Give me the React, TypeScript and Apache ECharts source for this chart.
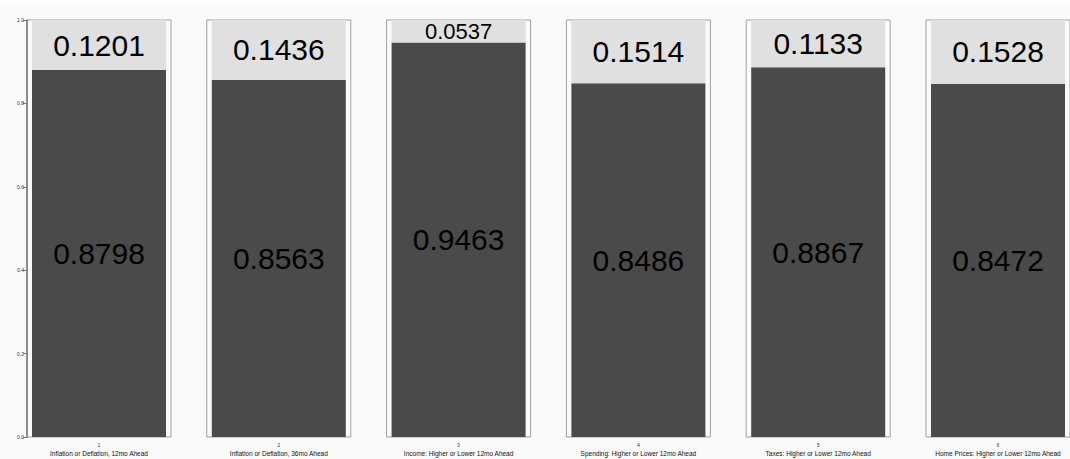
import React, { useEffect, useRef } from "react";
import * as echarts from "echarts";

const categories = [
  "Inflation or Deflation, 12mo Ahead",
  "Inflation or Deflation, 36mo Ahead",
  "Income: Higher or Lower 12mo Ahead",
  "Spending: Higher or Lower 12mo Ahead",
  "Taxes: Higher or Lower 12mo Ahead",
  "Home Prices: Higher or Lower 12mo Ahead",
];
const categoryNumbers = ["1", "2", "3", "4", "5", "6"];
const lowerValues = [0.8798, 0.8563, 0.9463, 0.8486, 0.8867, 0.8472];
const upperValues = [0.1201, 0.1436, 0.0537, 0.1514, 0.1133, 0.1528];
const yTicks = [0, 0.2, 0.4, 0.6, 0.8, 1.0];

const W = 1070;
const H = 459;
const GRID_TOP = 20;
const GRID_H = 417;
const FIRST_LEFT = 27;
const STEP = 179.8;
const GRID_W = 144;
const FONT = "'Liberation Sans', Arial, Helvetica, sans-serif";

export default function App() {
  const ref = useRef<HTMLDivElement>(null);
  useEffect(() => {
    if (!ref.current) return;
    const chart = echarts.init(ref.current, null, { renderer: "svg" });
    const grids: any[] = [];
    const xAxes: any[] = [];
    const yAxes: any[] = [];
    const series: any[] = [];
    categories.forEach((cat, i) => {
      grids.push({
        left: FIRST_LEFT + i * STEP,
        top: GRID_TOP,
        width: GRID_W,
        height: GRID_H,
        show: true,
        borderColor: "#a0a0a0",
        borderWidth: 1,
        backgroundColor: "transparent",
      });
      xAxes.push({
        type: "category",
        gridIndex: i,
        data: [cat],
        axisLine: { show: false },
        axisTick: { show: false },
        axisLabel: {
          margin: 5,
          interval: 0,
          formatter: () => `{n|${categoryNumbers[i]}}\n{t|${cat}}`,
          rich: {
            n: { fontSize: 4.5, lineHeight: 7, color: "#222", fontFamily: FONT },
            t: { fontSize: 6.5, lineHeight: 8, color: "#111", fontFamily: FONT },
          },
        },
      });
      const first = i === 0;
      yAxes.push({
        type: "value",
        gridIndex: i,
        min: 0,
        max: 1,
        interval: 0.2,
        splitLine: { show: false },
        axisLine: { show: first, lineStyle: { color: "#777", width: 1.5 } },
        axisTick: { show: first, length: 4, lineStyle: { color: "#777" } },
        axisLabel: {
          show: first,
          fontSize: 5,
          color: "#333",
          margin: 3,
          fontFamily: FONT,
          formatter: (v: number) => (yTicks.includes(v) ? v.toFixed(1) : ""),
        },
      });
      const labelSize = (v: number) => (v * GRID_H < 40 ? 22 : 30);
      series.push({
        type: "bar",
        xAxisIndex: i,
        yAxisIndex: i,
        stack: "s" + i,
        barWidth: 134,
        itemStyle: { color: "#4a4a4a" },
        label: {
          show: true,
          position: "inside",
          color: "#000",
          fontFamily: FONT,
          fontSize: labelSize(lowerValues[i]),
          formatter: () => lowerValues[i].toFixed(4),
        },
        data: [lowerValues[i]],
      });
      series.push({
        type: "bar",
        xAxisIndex: i,
        yAxisIndex: i,
        stack: "s" + i,
        barWidth: 134,
        itemStyle: { color: "#e0e0e0" },
        label: {
          show: true,
          position: "inside",
          color: "#000",
          fontFamily: FONT,
          fontSize: labelSize(upperValues[i]),
          formatter: () => upperValues[i].toFixed(4),
        },
        data: [upperValues[i]],
      });
    });
    chart.setOption({
      animation: false,
      backgroundColor: "#ffffff",
      graphic: [
        {
          type: "rect",
          z: -10,
          silent: true,
          shape: { x: 0, y: 5, width: W, height: H - 5 },
          style: { fill: "#fafafa" },
        },
      ],
      grid: grids,
      xAxis: xAxes,
      yAxis: yAxes,
      series,
    });
    return () => chart.dispose();
  }, []);
  return (
    <div
      ref={ref}
      style={{ position: "fixed", left: 0, top: 0, width: W, height: H }}
    />
  );
}
